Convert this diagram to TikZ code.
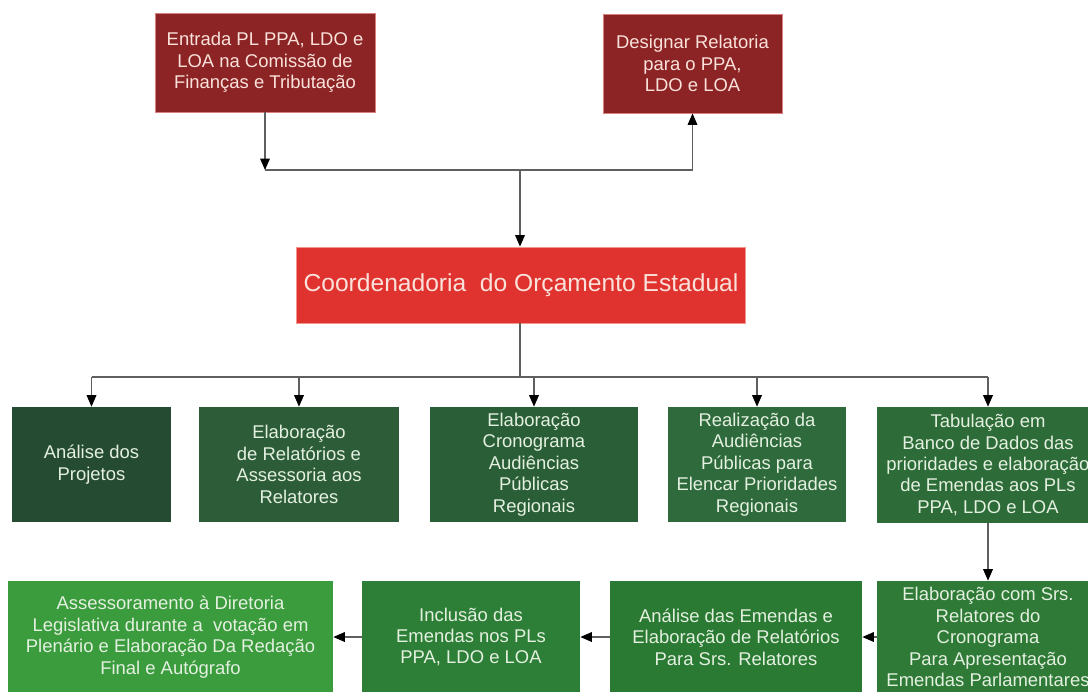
\documentclass[tikz,border=0pt]{standalone}
\usepackage{fontspec}
\setmainfont{Liberation Sans}
\usetikzlibrary{arrows.meta}
\usetikzlibrary{positioning}
\usetikzlibrary{calc}

\definecolor{vinho}{RGB}{140,36,38}
\definecolor{vinhoborda}{RGB}{215,130,128}
\definecolor{vermelho}{RGB}{224,50,46}
\definecolor{vermelhoborda}{RGB}{240,150,140}
\definecolor{textorosa}{RGB}{250,226,218}
\definecolor{textoverde}{RGB}{228,240,224}
\definecolor{cinza}{RGB}{95,95,95}
\definecolor{verdeA}{RGB}{38,75,51}
\definecolor{verdeB}{RGB}{44,92,56}
\definecolor{verdeC}{RGB}{42,94,54}
\definecolor{verdeD}{RGB}{46,106,59}
\definecolor{verdeE}{RGB}{45,108,56}
\definecolor{verdeF}{RGB}{59,156,62}
\definecolor{verdeG}{RGB}{45,127,55}
\definecolor{verdeH}{RGB}{42,122,51}
\definecolor{verdeI}{RGB}{46,122,54}

\begin{document}
\begin{tikzpicture}[x=0.02cm, y=-0.02cm,
    tam/.style 2 args={minimum width=#1*0.02cm, minimum height=#2*0.02cm},
    caixa/.style={rectangle, align=center, inner sep=2pt, font=\fontsize{10.5}{12.2}\selectfont},
    vermelha/.style={caixa, fill=vinho, draw=vinhoborda, line width=0.5pt, text=textorosa},
    verde/.style={caixa, fill=#1, text=textoverde},
    seta/.style={draw=cinza, line width=0.6pt, -{Triangle[length=6.5pt,width=5.5pt,color=black]}},
    linha/.style={draw=cinza, line width=0.6pt}]
            \useasboundingbox (0,0) rectangle (1088,691);
            \clip (0,0) rectangle (1088,691);

            \node[vermelha, tam={220}{99}]  (entrada)  at (265,62.5)  {Entrada PL PPA, LDO e\\LOA na Comissão de\\Finanças e Tributação};
            \node[vermelha, tam={179}{99}]  (designar) at (692.5,63.5) {Designar Relatoria\\para o PPA,\\LDO e LOA};
            \node[vermelha, fill=vermelho, draw=vermelhoborda, tam={449}{76},
                  font=\fontsize{14}{16}\selectfont] (coord) at (521,285) {Coordenadoria \ do Orçamento Estadual};

            \node[verde=verdeA, tam={159}{115}] (analise)    at (91.5,464.5) {Análise dos\\Projetos};
            \node[verde=verdeB, tam={200}{115}] (relatorios) at (299,464.5)  {Elaboração\\de Relatórios e\\Assessoria aos\\Relatores};
            \node[verde=verdeC, tam={208}{115}] (cronograma) at (534,464.5)  {Elaboração\\Cronograma\\Audiências\\Públicas\\Regionais};
            \node[verde=verdeD, tam={178}{115}] (audiencias) at (757,464.5)  {Realização da\\Audiências\\Públicas para\\Elencar Prioridades\\Regionais};
            \node[verde=verdeE, tam={222}{116}] (tabulacao)  at (988,465)    {Tabulação em\\Banco de Dados das\\prioridades e elaboração\\de Emendas aos PLs\\PPA, LDO e LOA};

            \node[verde=verdeF, tam={325}{112}] (assessoramento) at (170.5,637) {Assessoramento à Diretoria\\Legislativa durante a \ votação em\\Plenário e Elaboração Da Redação\\Final e Autógrafo};
            \node[verde=verdeG, tam={218}{112}] (inclusao) at (471,637) {Inclusão das\\Emendas nos PLs\\PPA, LDO e LOA};
            \node[verde=verdeH, tam={252}{112}] (emendas)  at (736,637) {Análise das Emendas e\\Elaboração de Relatórios\\Para Srs. Relatores};
            \node[verde=verdeI, tam={222}{112}] (srs)      at (988,637) {Elaboração com Srs.\\Relatores do\\Cronograma\\Para Apresentação\\Emendas Parlamentares};

            \coordinate (topo) at (520,170); % junction above the coordination
            \coordinate (meio) at (520,377); % junction of the second row

            \draw[seta] (entrada) -- (entrada |- topo);
            \draw[seta] (entrada |- topo) -- (designar |- topo) -- (designar);
            \draw[seta] (topo) -- (topo |- coord.north);
            \draw[linha] (topo |- coord.south) -- (meio);
            \draw[linha] (analise |- meio) -- (tabulacao |- meio);
            \foreach \n in {analise, relatorios, cronograma, audiencias, tabulacao}
                \draw[seta] (\n |- meio) -- (\n);
            \draw[seta] (tabulacao) -- (srs);
            \draw[seta] (srs) -- (emendas);
            \draw[seta] (emendas) -- (inclusao);
            \draw[seta] (inclusao) -- (assessoramento);
        \end{tikzpicture}
\end{document}
